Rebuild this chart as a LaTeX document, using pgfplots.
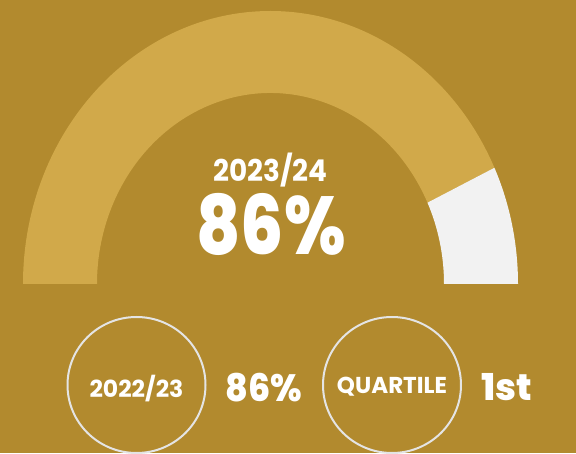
\documentclass[border=0pt]{standalone}
\usepackage{pgfplots}
\pgfplotsset{compat=1.18}
\usepackage{pgfplotstable}
\usepackage{fontspec}
\setmainfont{Poppins}
\newfontfamily\popb{Poppins}[UprightFont=* Bold]
\newfontfamily\popx{Poppins}[UprightFont=* ExtraBold]

\definecolor{bg}{HTML}{B28A2E}
\definecolor{gaugegold}{HTML}{D1A94A}
\definecolor{gaugerest}{HTML}{F2F2F2}
\definecolor{ringline}{HTML}{E4E4E4}

% current year, previous year
\pgfplotstableread{
year    value
2023/24 86
2022/23 86
}\scores

\begin{document}
\begin{tikzpicture}
\pgfplotstablegetelem{0}{value}\of\scores
\pgfmathsetmacro{\cut}{180*(1-\pgfplotsretval/100)}
\begin{axis}[
    x=1pt, y=1pt,
    xmin=0, xmax=576, ymin=0, ymax=453,
    hide axis,
    clip=true,
]
\fill[bg] (axis cs:0,0) rectangle (axis cs:576,453);

% gauge: center (270.5,169), outer radii 247.5 x 273, inner 173.5 x 191
\fill[gaugegold] (axis cs:23,169)
    arc[start angle=180, end angle=\cut, x radius=247.5, y radius=273]
    -- (axis cs:{270.5+173.5*cos(\cut)},{169+191*sin(\cut)})
    arc[start angle=\cut, end angle=180, x radius=173.5, y radius=191]
    -- cycle;
\fill[gaugerest] (axis cs:{270.5+247.5*cos(\cut)},{169+273*sin(\cut)})
    arc[start angle=\cut, end angle=0, x radius=247.5, y radius=273]
    -- (axis cs:444,169)
    arc[start angle=0, end angle=\cut, x radius=173.5, y radius=191]
    -- cycle;

\node[text=white, xscale=0.93, font=\popb\fontsize{30}{30}\selectfont] at (axis cs:270.5,283) {2023/24};
\node[text=white, xscale=0.83, font=\popx\fontsize{82}{82}\selectfont] at (axis cs:271,229) {86\%};

% previous year and quartile
\draw[ringline, line width=2pt] (axis cs:136.5,68) ellipse[x radius=69, y radius=68];
\node[text=white, font=\popb\fontsize{23.5}{23.5}\selectfont] at (axis cs:136.5,64) {2022/23};
\node[text=white, xscale=0.92, font=\popx\fontsize{38}{38}\selectfont] at (axis cs:264,65) {86\%};

\draw[ringline, line width=2pt] (axis cs:392,68) ellipse[x radius=69, y radius=68];
\node[text=white, font=\popb\fontsize{23}{23}\selectfont] at (axis cs:392,66) {QUARTILE};
\node[text=white, font=\popx\fontsize{37}{37}\selectfont] at (axis cs:506.5,66) {1st};
\end{axis}
\end{tikzpicture}
\end{document}
